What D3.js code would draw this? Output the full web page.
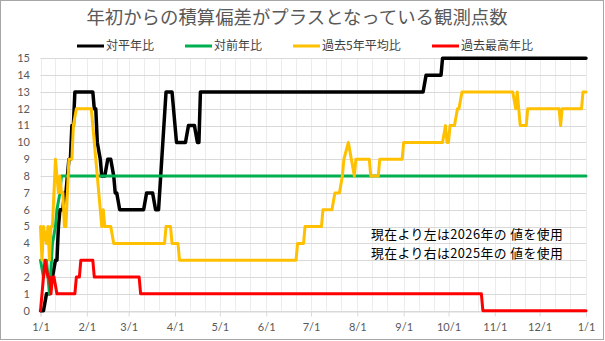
<!DOCTYPE html>
<html>
<head>
<meta charset="utf-8">
<script src="https://cdn.jsdelivr.net/npm/d3@7"></script>
<style>
  html, body { margin: 0; padding: 0; background: #fff; }
  svg { display: block; }
</style>
</head>
<body>
<svg id="chart" width="605" height="341"></svg>
<script>
// ---- data ----
const titleText = "年初からの積算偏差がプラスとなっている観測点数";
const seriesNames = ["対平年比", "対前年比", "過去5年平均比", "過去最高年比"];
const seriesColors = ["#000000", "#00b050", "#ffc000", "#ff0000"];
const yTicks = [0,1,2,3,4,5,6,7,8,9,10,11,12,13,14,15];
const xTickLabels = ["1/1","2/1","3/1","4/1","5/1","6/1","7/1","8/1","9/1","10/1","11/1","12/1","1/1"];
const noteLines = ["現在より左は2026年の 値を使用", "現在より右は2025年の 値を使用"];

// day offsets from 2026-01-01 and values at those days
const heinenDay = [0,2,4,6,10,11,12,13,15,16,17,19,20,21,22,23,35,36,37,38,40,41,43,45,47,49,50,51,53,69,71,75,77,79,84,88,91,97,99,103,105,106,107,256,258,268,269,365];
const heinenVal = [0,0,1,1,3,3,5,6,6,7,7,9,9,11,11,13,13,12,12,10,9,8,8,9,9,8,7,7,6,6,7,7,6,6,13,13,10,10,11,11,10,10,13,13,14,14,15,15];

const zenDay = [0,2,4,6,8,10,11,13,14,365];
const zenVal = [3,2,3,1,4,5,6,7,8,8];

const avg5Day = [0,1,2,4,5,6,7,8,10,12,13,14,15,16,17,18,19,21,22,24,34,35,37,38,40,41,42,43,47,49,83,84,87,88,92,93,171,172,176,177,188,189,195,197,200,202,203,206,208,210,211,220,221,226,227,242,243,269,271,272,273,274,277,279,280,282,316,318,319,321,325,326,347,348,349,362,363,365];
const avg5Val = [5,3,5,4,5,3,5,5,9,7,8,7,7,5,5,7,9,9,11,12,12,11,9,8,6,5,6,5,5,4,4,5,5,4,4,3,3,4,4,5,5,6,6,7,7,8,9,10,9,8,9,9,8,8,9,9,10,10,11,10,10,11,11,12,12,13,13,12,13,11,11,12,12,11,12,12,13,13];

const maxDay = [0,3,5,6,7,8,9,11,23,24,26,27,35,36,66,67,295,296,365];
const maxVal = [0,3,2,2,1,2,2,1,1,2,2,3,3,2,2,1,1,0,0];

// ---- setup ----
const startDate = new Date(2026, 0, 1);
const endDate = new Date(2027, 0, 1);
const svg = d3.select("#chart");
const W = 605, H = 341;
const plot = { left: 40.5, right: 586, top: 58.3, bottom: 310.7 };

const x = d3.scaleTime().domain([startDate, endDate]).range([plot.left, plot.right]);
const y = d3.scaleLinear().domain([0, 15]).range([plot.bottom, plot.top]);

const numFont = "Lato, 'Noto Sans CJK JP', sans-serif";
const jpFont = "'Noto Sans CJK JP', 'Noto Sans', sans-serif";

// background + border
svg.append("rect").attr("x", 0.5).attr("y", 0.5).attr("width", W - 2).attr("height", H - 2)
  .attr("fill", "#fff").attr("stroke", "#a6a6a6").attr("stroke-width", 1);

// vertical minor gridlines (1st, 11th, 21st of each month)
const gridDates = [];
for (let m = 0; m < 12; m++) {
  [1, 11, 21].forEach(d => gridDates.push(new Date(2026, m, d)));
}
gridDates.push(endDate);
svg.append("g").selectAll("line").data(gridDates).join("line")
  .attr("x1", d => Math.round(x(d)) + 0.5).attr("x2", d => Math.round(x(d)) + 0.5)
  .attr("y1", y(15)).attr("y2", y(0))
  .attr("stroke", "#ececec").attr("stroke-width", 1);

// horizontal gridlines
svg.append("g").selectAll("line").data(yTicks).join("line")
  .attr("x1", plot.left).attr("x2", plot.right)
  .attr("y1", d => Math.round(y(d)) + 0.5).attr("y2", d => Math.round(y(d)) + 0.5)
  .attr("stroke", "#d9d9d9").attr("stroke-width", 1);

// x axis
const monthTicks = d3.timeMonth.range(startDate, d3.timeDay.offset(endDate, 1));
const xAxis = d3.axisBottom(x).tickValues(monthTicks).tickSize(5).tickPadding(7)
  .tickFormat((d, i) => xTickLabels[i]);
const gx = svg.append("g").attr("transform", `translate(0,${Math.round(y(0)) + 0.5})`).call(xAxis);
gx.select(".domain").attr("stroke", "#d9d9d9");
gx.selectAll(".tick line").attr("stroke", "#d9d9d9");
gx.selectAll(".tick text").attr("fill", "#595959").style("font-family", numFont).style("font-size", "11px");

// y axis labels
svg.append("g").selectAll("text").data(yTicks).join("text")
  .attr("x", 30).attr("y", d => y(d)).attr("dy", "0.35em")
  .attr("text-anchor", "end").attr("fill", "#595959")
  .style("font-family", numFont).style("font-size", "11px")
  .text(d => d);

// lines
const seriesData = [
  heinenDay.map((d, i) => [d, heinenVal[i]]),
  zenDay.map((d, i) => [d, zenVal[i]]),
  avg5Day.map((d, i) => [d, avg5Val[i]]),
  maxDay.map((d, i) => [d, maxVal[i]])
];
const line = d3.line()
  .x(p => x(d3.timeDay.offset(startDate, p[0])))
  .y(p => y(p[1]));
const widths = [3.5, 3, 3, 3];
seriesData.forEach((s, i) => {
  svg.append("path").datum(s)
    .attr("d", line).attr("fill", "none")
    .attr("stroke", seriesColors[i]).attr("stroke-width", widths[i])
    .attr("stroke-linejoin", "round").attr("stroke-linecap", "round");
});

// title
svg.append("text").attr("x", 297).attr("y", 23.5).attr("text-anchor", "middle")
  .attr("fill", "#595959").style("font-family", jpFont).style("font-size", "18.4px")
  .text(titleText);

// legend
const legendX = [77, 185, 293, 432];
const lg = svg.append("g");
seriesNames.forEach((n, i) => {
  lg.append("line").attr("x1", legendX[i]).attr("x2", legendX[i] + 27)
    .attr("y1", 46).attr("y2", 46)
    .attr("stroke", seriesColors[i]).attr("stroke-width", 3);
  lg.append("text").attr("x", legendX[i] + 29).attr("y", 46).attr("dy", "0.36em")
    .attr("fill", "#404040").style("font-family", jpFont).style("font-size", "12px")
    .text(n);
});

// annotation
svg.append("g").selectAll("text").data(noteLines).join("text")
  .attr("x", 371).attr("y", (d, i) => 234.5 + i * 18.6).attr("dy", "0.36em")
  .attr("fill", "#000").style("font-family", jpFont).style("font-size", "12.8px")
  .style("letter-spacing", "0.45px")
  .text(d => d);
</script>
</body>
</html>
